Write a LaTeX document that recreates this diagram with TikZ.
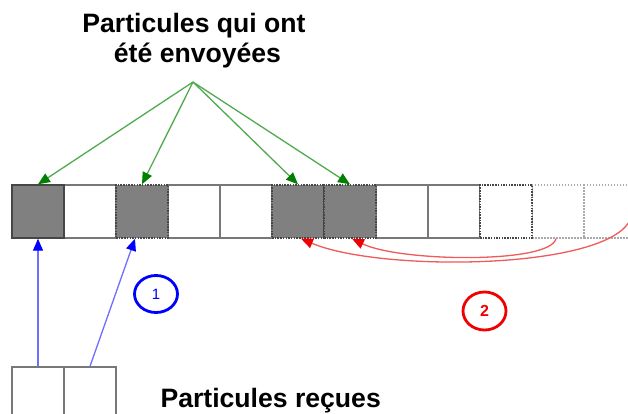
\documentclass[tikz,border=0pt]{standalone}
\usepackage{fontspec}
\setmainfont{Liberation Sans}
\usetikzlibrary{arrows.meta,shapes.geometric}
\definecolor{shade}{RGB}{128,128,128}
\definecolor{edgegray}{RGB}{120,120,120}
\definecolor{edgedark}{RGB}{70,70,70}
\definecolor{edgelight}{RGB}{170,170,170}
\definecolor{greenline}{RGB}{80,170,80}
\definecolor{greentip}{RGB}{0,128,0}
\definecolor{blueline}{RGB}{110,110,255}
\definecolor{bluetip}{RGB}{0,0,255}
\definecolor{redline}{RGB}{240,90,90}
\definecolor{redtip}{RGB}{240,0,0}
\tikzset{
  cell/.style={rectangle, minimum width=52pt, minimum height=53pt, inner sep=0pt, line width=1.4pt, draw=edgegray, fill=white},
  fullcell/.style={cell, fill=shade, draw=edgedark},
  dotcell/.style={cell, fill=shade, draw=edgedark, dash pattern=on 1.5pt off 1.2pt},
  dotempty/.style={cell, draw=edgedark, line width=1.6pt, dash pattern=on 1.5pt off 1.2pt},
  ghostcell/.style={cell, draw=edgelight, dash pattern=on 1.5pt off 1.5pt},
  greenarrow/.style={draw=greenline, line width=1.3pt, -{Triangle[length=12pt,width=10pt,color=greentip]}},
  bluearrow/.style={draw=blueline, line width=1.3pt, -{Triangle[length=12pt,width=10pt,color=bluetip]}},
  redarrow/.style={draw=redline, line width=1.3pt, -{Triangle[length=12pt,width=10pt,color=redtip]}},
  title/.style={font=\fontsize{26.6}{30}\selectfont\bfseries, align=center, text=black},
  bluelabel/.style={ellipse, draw=bluetip, line width=2.8pt, minimum width=43pt, minimum height=37pt, inner sep=0pt, text=bluetip, font=\fontsize{15}{15}\selectfont},
  redlabel/.style={ellipse, draw=redtip, line width=2.8pt, minimum width=43pt, minimum height=38pt, inner sep=0pt, text=redtip, font=\fontsize{16}{16}\selectfont\bfseries},
}
\begin{document}
\begin{tikzpicture}[x=1pt,y=-1pt]
\useasboundingbox (0,0) rectangle (628,414);
\clip (0,0) rectangle (628,414);
\fill[white] (0,0) rectangle (628,414);
% row of cells
\node[cell] (b1) at (90,211.5) {};
\node[cell] (b3) at (194,211.5) {};
\node[cell] (b4) at (246,211.5) {};
\node[cell] (b7) at (402,211.5) {};
\node[cell] (b8) at (454,211.5) {};
\node[ghostcell] (b10) at (558,211.5) {};
\node[ghostcell] (b11) at (610,211.5) {};
\node[dotempty] (b9) at (506,211.5) {};
\node[fullcell] (b0) at (38,211.5) {};
\node[dotcell] (b2) at (142,211.5) {};
\node[dotcell] (b5) at (298,211.5) {};
\node[dotcell] (b6) at (350,211.5) {};
% received cells
\node[cell] (c0) at (38,393.5) {};
\node[cell] (c1) at (90,393.5) {};
% titles
\node[title] (sent) at (194,41) {Particules qui ont\\\hspace*{7pt}été envoyées};
\node[title, anchor=base west] (recv) at (157,407) {Particules reçues};
% green arrows
\coordinate (apex) at (193,82);
\draw[greenarrow] (apex) -- (b0.north);
\draw[greenarrow] (apex) -- (b2.north);
\draw[greenarrow] (apex) -- (b5.north);
\draw[greenarrow] (apex) -- (b6.north);
% blue arrows
\draw[bluearrow] (c0.north) -- (b0.south);
\draw[bluearrow] (c1.north) -- ([xshift=-7pt]b2.south);
\node[bluelabel] (one) at (156,294) {1};
% red arrows
\coordinate (farright) at (629,222);
\draw[redarrow] ([xshift=-2pt]b10.south) .. controls (550,264) and (400,262) .. ([xshift=2pt]b6.south);
\draw[redarrow] (farright) .. controls (600,270) and (380,272) .. ([xshift=3pt]b5.south);
\node[redlabel] (two) at (484.5,311) {2};
\end{tikzpicture}
\end{document}
